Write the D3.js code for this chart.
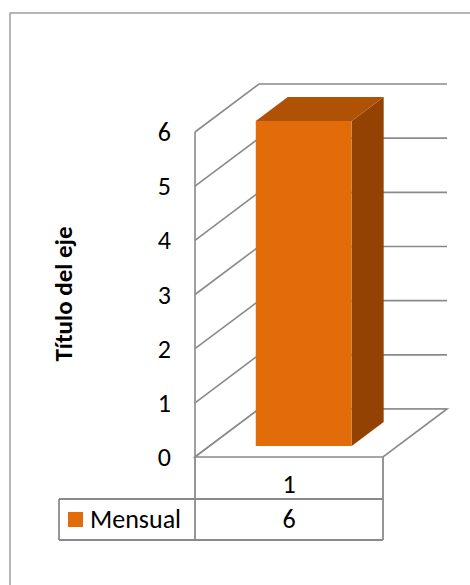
<!DOCTYPE html>
<html>
<head>
<meta charset="utf-8">
<script src="https://cdn.jsdelivr.net/npm/d3@7"></script>
<style>
  html, body { margin: 0; padding: 0; background: #fff; }
  svg text { font-family: Carlito, Calibri, Lato, "Noto Sans", sans-serif; fill: #000; }
</style>
</head>
<body>
<svg id="chart" width="470" height="585"></svg>
<script>
const categories = ["1"];
const seriesName = "Mensual";
const seriesValues = [6];
const yTicks = [0, 1, 2, 3, 4, 5, 6];
const axisTitle = "Título del eje";

const svg = d3.select("#chart");
const gridColor = "#8a8a8a";

// plot frame (front plane) and depth projection
const plot = { left: 195, right: 383, top: 132, bottom: 457 };
const depth = { dx: 64, dy: -48 };
const proj = (x, y, t) => [x + depth.dx * t, y + depth.dy * t];

const y = d3.scaleLinear().domain([0, 6]).range([plot.bottom, plot.top]);
const x = d3.scaleBand().domain(categories).range([plot.left, plot.right]).paddingOuter(0.48).paddingInner(0);

// outer chart border
svg.append("rect")
  .attr("x", 10).attr("y", 13).attr("width", 480).attr("height", 600)
  .attr("fill", "none").attr("stroke", "#878787").attr("stroke-width", 1.2);

const walls = svg.append("g").attr("fill", "none").attr("stroke", gridColor).attr("stroke-width", 1.6);

// side wall gridlines + back wall gridlines
yTicks.forEach((v) => {
  const [bx, by] = proj(plot.left, y(v), 1);
  walls.append("polyline")
    .attr("points", [[plot.left, y(v)], [bx, by], proj(plot.right, y(v), 1)].map((p) => p.join(",")).join(" "));
});
walls.append("line")
  .attr("x1", plot.left).attr("y1", y(6)).attr("x2", plot.left).attr("y2", y(0));

// floor
const floorPts = [[plot.left, y(0)], [plot.right, y(0)], proj(plot.right, y(0), 1), proj(plot.left, y(0), 1)];
walls.append("polygon")
  .attr("points", floorPts.map((p) => p.join(",")).join(" "))
  .attr("fill", "#fff");

// 3D bar
const t0 = 0.23, t1 = 0.73;
const barG = svg.append("g");
categories.forEach((c, i) => {
  const x0 = x(c), x1 = x(c) + x.bandwidth();
  const v = seriesValues[i];
  const f = (xx, yy) => proj(xx, yy, t0);
  const b = (xx, yy) => proj(xx, yy, t1);
  const pts = (arr) => arr.map((p) => p.join(",")).join(" ");
  barG.append("polygon").attr("points", pts([f(x1, y(v)), b(x1, y(v)), b(x1, y(0)), f(x1, y(0))])).attr("fill", "#934204");
  barG.append("polygon").attr("points", pts([f(x0, y(v)), b(x0, y(v)), b(x1, y(v)), f(x1, y(v))])).attr("fill", "#b05206");
  barG.append("polygon").attr("points", pts([f(x0, y(v)), f(x1, y(v)), f(x1, y(0)), f(x0, y(0))])).attr("fill", "#e36c0a");
});

// y tick labels
svg.append("g").selectAll("text")
  .data(yTicks)
  .join("text")
  .attr("x", 171)
  .attr("y", (d) => y(d) + 9)
  .attr("text-anchor", "end")
  .attr("font-size", 26)
  .text((d) => d);

// axis title
svg.append("text")
  .attr("transform", "translate(72,294) rotate(-90)")
  .attr("text-anchor", "middle")
  .attr("font-size", 25)
  .attr("font-weight", "bold")
  .text(axisTitle);

// data table
const table = { legendLeft: 59, row1: plot.bottom, row2: 499, bottom: 540 };
const tg = svg.append("g").attr("stroke", "#8a8a8a").attr("stroke-width", 1.8).attr("fill", "none");
tg.append("line").attr("x1", plot.left).attr("y1", table.row1).attr("x2", plot.left).attr("y2", table.bottom);
tg.append("line").attr("x1", plot.right).attr("y1", table.row1).attr("x2", plot.right).attr("y2", table.bottom);
tg.append("line").attr("x1", table.legendLeft).attr("y1", table.row2).attr("x2", plot.right).attr("y2", table.row2);
tg.append("line").attr("x1", table.legendLeft).attr("y1", table.bottom).attr("x2", plot.right).attr("y2", table.bottom);
tg.append("line").attr("x1", table.legendLeft).attr("y1", table.row2).attr("x2", table.legendLeft).attr("y2", table.bottom);

const cx = (plot.left + plot.right) / 2;
svg.append("text").attr("x", cx).attr("y", 493).attr("text-anchor", "middle").attr("font-size", 26).text(categories[0]);
svg.append("text").attr("x", cx).attr("y", 528).attr("text-anchor", "middle").attr("font-size", 26).text(seriesValues[0]);

svg.append("rect").attr("x", 68).attr("y", 512).attr("width", 15).attr("height", 15).attr("fill", "#e36c0a");
svg.append("text").attr("x", 90).attr("y", 528).attr("font-size", 26).text(seriesName);
</script>
</body>
</html>
